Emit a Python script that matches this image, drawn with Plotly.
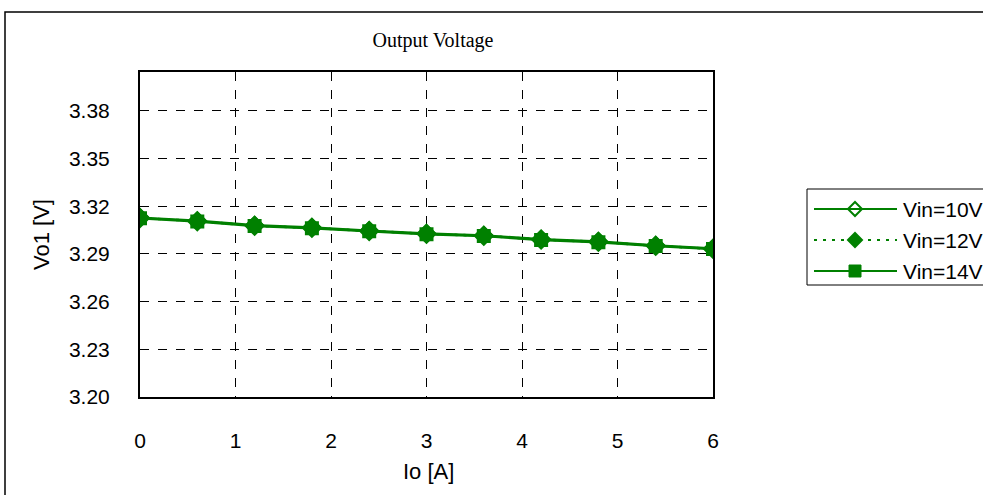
import plotly.graph_objects as go

io_a = [0.0, 0.6, 1.2, 1.8, 2.4, 3.0, 3.6, 4.2, 4.8, 5.4, 6.0]
vin10 = [3.3128, 3.3108, 3.3080, 3.3066, 3.3046, 3.3028, 3.3016, 3.2992, 3.2978, 3.2953, 3.2934]
vin12 = [3.3126, 3.3106, 3.3077, 3.3064, 3.3044, 3.3026, 3.3014, 3.2990, 3.2976, 3.2951, 3.2932]
vin14 = [3.3124, 3.3104, 3.3075, 3.3062, 3.3042, 3.3024, 3.3012, 3.2988, 3.2974, 3.2950, 3.2931]
series_names = ["Vin=10V", "Vin=12V", "Vin=14V"]
y_ticks = [3.20, 3.23, 3.26, 3.29, 3.32, 3.35, 3.38]
x_ticks = [0, 1, 2, 3, 4, 5, 6]

green = "#008000"
styles = [
    dict(dash="solid", symbol="diamond-open", size=13),
    dict(dash="3px,6px", symbol="diamond", size=14),
    dict(dash="solid", symbol="square", size=12),
]

fig = go.Figure()
for name, vals, st in zip(series_names, [vin10, vin12, vin14], styles):
    fig.add_trace(go.Scatter(x=io_a, y=vals, name=name, mode="lines+markers", cliponaxis=True,
                             line=dict(color=green, width=2.5, dash=st["dash"]),
                             marker=dict(symbol=st["symbol"], size=st["size"], color=green,
                                         line=dict(width=2, color=green))))

L, R, T, B = 140, 713, 72, 397
W, H = 983, 495
pw, ph = R - L, B - T

def px(x):
    return (x - L) / pw

def py(y):
    return (B - y) / ph

shapes = [dict(type="rect", xref="paper", yref="paper",
               x0=px(5), x1=px(1000), y0=py(520), y1=py(12),
               line=dict(color="black", width=1.5), fillcolor="rgba(0,0,0,0)", layer="below")]
annotations = []

# custom legend
shapes.append(dict(type="rect", xref="paper", yref="paper",
                   x0=px(807), x1=px(1000), y0=py(285), y1=py(189),
                   line=dict(color="black", width=1), fillcolor="white", layer="above"))
row_y = [209, 240, 271]
mx = 855
for name, st, ry in zip(series_names, styles, row_y):
    shapes.append(dict(type="line", xref="paper", yref="paper",
                       x0=px(814), x1=px(897), y0=py(ry), y1=py(ry),
                       line=dict(color=green, width=2, dash=st["dash"]), layer="above"))
    if st["symbol"].startswith("diamond"):
        r = 7
        path = "M {},{} L {},{} L {},{} L {},{} Z".format(
            px(mx - r), py(ry), px(mx), py(ry - r), px(mx + r), py(ry), px(mx), py(ry + r))
        filled = st["symbol"] == "diamond"
        shapes.append(dict(type="path", xref="paper", yref="paper", path=path,
                           line=dict(color=green, width=2),
                           fillcolor=green if filled else "white", layer="above"))
        if not filled:
            shapes.append(dict(type="line", xref="paper", yref="paper",
                               x0=px(mx - r), x1=px(mx + r), y0=py(ry), y1=py(ry),
                               line=dict(color=green, width=2), layer="above"))
    else:
        r = 6
        shapes.append(dict(type="rect", xref="paper", yref="paper",
                           x0=px(mx - r), x1=px(mx + r), y0=py(ry + r), y1=py(ry - r),
                           line=dict(color=green, width=1), fillcolor=green, layer="above"))
    annotations.append(dict(text=name, xref="paper", yref="paper", x=px(901), y=py(ry),
                            xanchor="left", yanchor="middle", showarrow=False,
                            font=dict(family="Liberation Sans, Arial", size=21, color="black")))

# axis titles
annotations.append(dict(text="Io [A]", xref="paper", yref="paper", x=px(428), y=py(471),
                        xanchor="center", yanchor="middle", showarrow=False,
                        font=dict(family="Liberation Sans, Arial", size=22, color="black")))
annotations.append(dict(text="Vo1 [V]", xref="paper", yref="paper", x=px(42), y=py(235),
                        xanchor="center", yanchor="middle", showarrow=False, textangle=-90,
                        font=dict(family="Liberation Sans, Arial", size=22, color="black")))

fig.update_layout(
    width=W, height=H,
    margin=dict(l=L, r=W - R, t=T, b=H - B),
    paper_bgcolor="white", plot_bgcolor="white",
    font=dict(family="Liberation Sans, Arial", size=21, color="black"),
    title=dict(text="Output Voltage", x=433 / W, xanchor="center", y=1 - 40 / H, yanchor="middle",
               font=dict(family="Liberation Serif, Times New Roman", size=20, color="black")),
    showlegend=False,
    xaxis=dict(range=[0, 6], tickvals=x_ticks, ticktext=[str(v) for v in x_ticks],
               showgrid=True, gridcolor="black", griddash="dash", gridwidth=1,
               zeroline=False, showline=True, linecolor="black", linewidth=2, mirror=True,
               ticks="", ticklabelstandoff=24, tickfont=dict(size=21)),
    yaxis=dict(range=[3.20, 3.4044], tickvals=y_ticks, ticktext=["%.2f" % v for v in y_ticks],
               showgrid=True, gridcolor="black", griddash="dash", gridwidth=1,
               zeroline=False, showline=True, linecolor="black", linewidth=2, mirror=True,
               ticks="", ticklabelstandoff=24, tickfont=dict(size=21)),
    shapes=shapes,
    annotations=annotations,
)

fig.write_html("out.html")
